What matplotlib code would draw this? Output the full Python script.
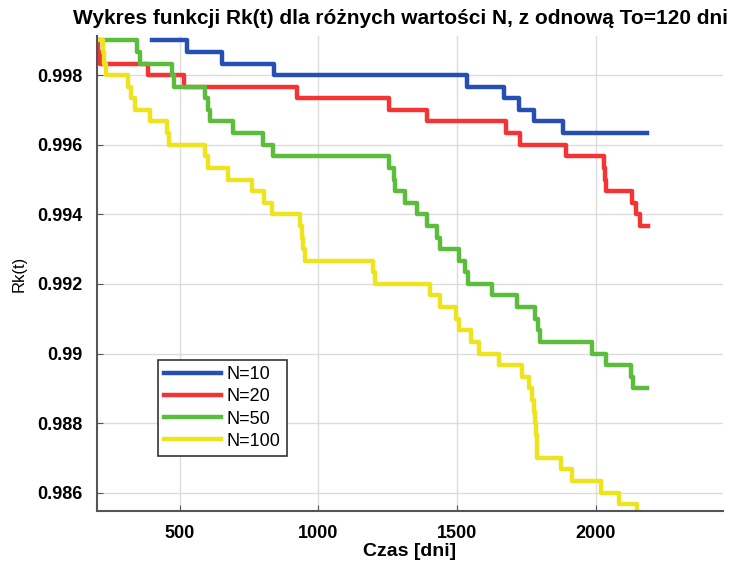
import matplotlib
matplotlib.use("Agg")
import matplotlib.pyplot as plt

# dane (czas w dniach, Rk(t))
t10 = [398, 526, 651, 840, 1536, 1669, 1723, 1777, 1884, 2187]
r10 = [0.999, 0.99867, 0.99833, 0.998, 0.99767, 0.99733, 0.997, 0.99667, 0.99633, 0.99633]

t20 = [200, 205, 212, 385, 514, 922, 1253, 1392, 1675, 1729, 1894, 2030, 2033, 2036,
       2133, 2145, 2160, 2190]
r20 = [0.999, 0.99867, 0.99833, 0.998, 0.99767, 0.99733, 0.997, 0.99667, 0.99633, 0.996,
       0.99567, 0.99533, 0.995, 0.99467, 0.99433, 0.994, 0.99367, 0.99367]

t50 = [200, 346, 355, 470, 478, 590, 600, 610, 693, 801, 835, 1253, 1271, 1277, 1314,
       1356, 1392, 1428, 1440, 1506, 1530, 1539, 1627, 1717, 1783, 1792, 1800, 1988,
       2036, 2129, 2136, 2187]
r50 = [0.999, 0.99867, 0.99833, 0.998, 0.99767, 0.99733, 0.997, 0.99667, 0.99633, 0.996,
       0.99567, 0.99533, 0.995, 0.99467, 0.99433, 0.994, 0.99367, 0.99333, 0.993, 0.99267,
       0.99233, 0.992, 0.99167, 0.99133, 0.991, 0.99067, 0.99033, 0.99, 0.98967, 0.98933,
       0.989, 0.989]

t100 = [200, 222, 226, 232, 313, 325, 337, 391, 454, 460, 590, 600, 675, 759, 804, 832,
        932, 940, 946, 952, 1197, 1205, 1404, 1440, 1498, 1507, 1551, 1579, 1651, 1735,
        1758, 1770, 1777, 1783, 1786, 1788, 1790, 1874, 1916, 2019, 2085, 2151, 2155]
r100 = [0.999, 0.99867, 0.99833, 0.998, 0.99767, 0.99733, 0.997, 0.99667, 0.99633, 0.996,
        0.99567, 0.99533, 0.995, 0.99467, 0.99433, 0.994, 0.99367, 0.99333, 0.993, 0.99267,
        0.99233, 0.992, 0.99167, 0.99133, 0.991, 0.99067, 0.99033, 0.99, 0.98967, 0.98933,
        0.989, 0.98867, 0.98833, 0.988, 0.98767, 0.98733, 0.987, 0.98667, 0.98633, 0.986,
        0.98567, 0.98533, 0.98533]

labels = ["N=10", "N=20", "N=50", "N=100"]
colors = ["#2450b4", "#f43434", "#5cbc3c", "#eee41e"]

x_ticks = [500, 1000, 1500, 2000]
y_ticks = [0.986, 0.988, 0.99, 0.992, 0.994, 0.996, 0.998]
y_tick_labels = ["0.986", "0.988", "0.99", "0.992", "0.994", "0.996", "0.998"]

plt.rcParams['font.family'] = ['Liberation Sans', 'DejaVu Sans']

fig = plt.figure(figsize=(7.3, 5.66), dpi=100)
ax = fig.add_axes([0.1325, 0.097, 0.858, 0.839])

for t, r, lab, c in zip([t10, t20, t50, t100], [r10, r20, r50, r100], labels, colors):
    ax.step(t, r, where='post', color=c, lw=3.2, label=lab)

ax.set_xlim(200, 2460)
ax.set_ylim(0.98547, 0.99912)
ax.set_xticks(x_ticks)
ax.set_xticklabels([str(v) for v in x_ticks], fontsize=13, fontweight='bold')
ax.set_yticks(y_ticks)
ax.set_yticklabels(y_tick_labels, fontsize=13, fontweight='bold')
ax.tick_params(direction='in', length=4, color='#555555', pad=10)
ax.grid(True, color='#dcdcdc', lw=1)
ax.set_axisbelow(True)
for s in ['top', 'right']:
    ax.spines[s].set_visible(False)
for s in ['left', 'bottom']:
    ax.spines[s].set_color('#555555')
    ax.spines[s].set_linewidth(1.5)

fig.text(0.549, 0.968, "Wykres funkcji Rk(t) dla różnych wartości N, z odnową To=120 dni",
         fontsize=15, fontweight='bold', ha='center', va='center')
ax.set_xlabel("Czas [dni]", fontsize=14, fontweight='bold', labelpad=1)
ax.set_ylabel("Rk(t)", fontsize=12, labelpad=8)

leg = ax.legend(loc='upper left', bbox_to_anchor=(0.098, 0.318), borderaxespad=0,
                fontsize=13, handlelength=3.15, handletextpad=0.3, borderpad=0.35,
                labelspacing=0.28, fancybox=False, framealpha=1, edgecolor='#333333')
leg.get_frame().set_linewidth(1.2)

fig.savefig("out.png", dpi=100)
